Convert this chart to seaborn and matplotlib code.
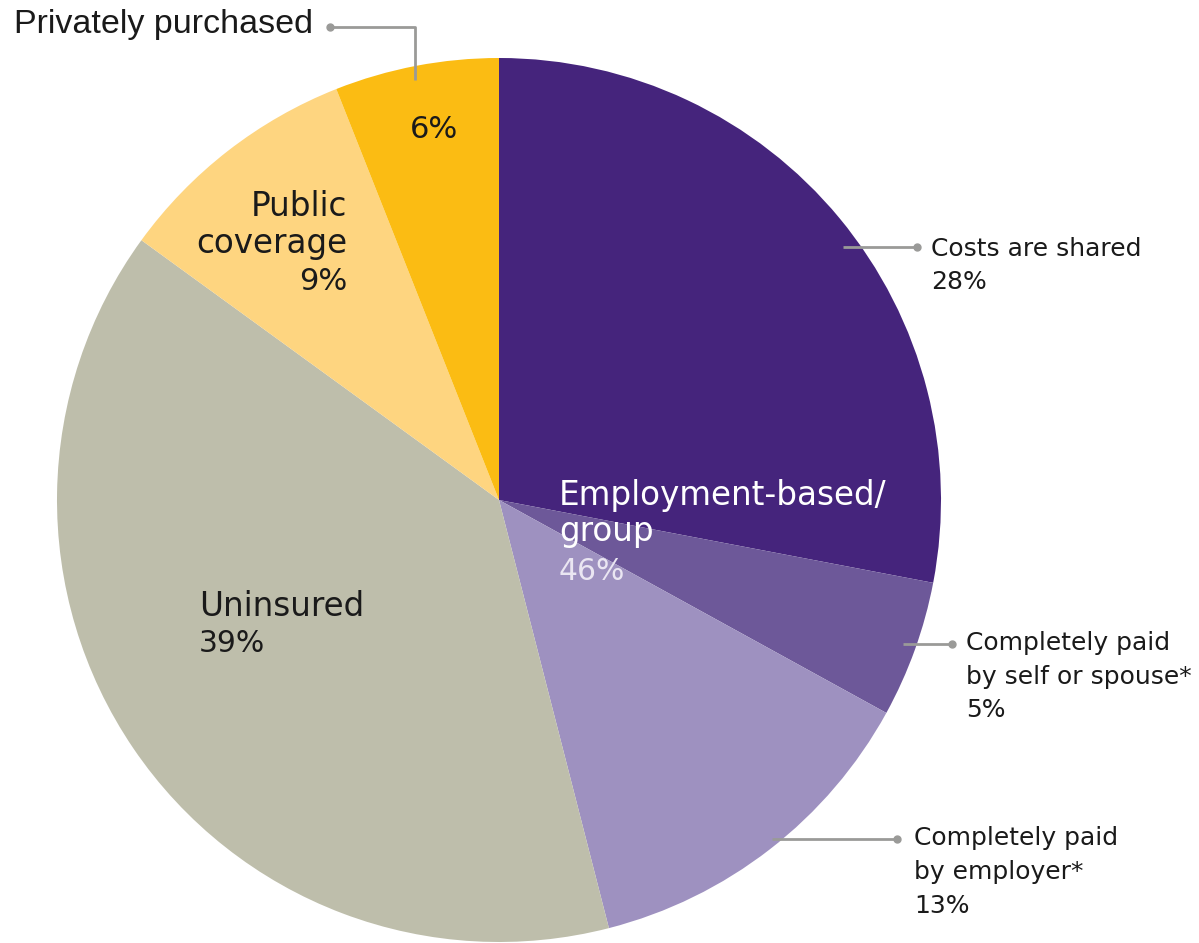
import matplotlib
matplotlib.use("Agg")
import matplotlib.pyplot as plt
import seaborn as sns

# Health coverage shares, clockwise from 12 o'clock
categories = [
    "Costs are shared",
    "Completely paid by self or spouse*",
    "Completely paid by employer*",
    "Uninsured",
    "Public coverage",
    "Privately purchased",
]
shares = [28, 5, 13, 39, 9, 6]
colors = ["#45247C", "#6D5899", "#9E91C0", "#BEBEAB", "#FED580", "#FBBC13"]

sns.set_theme(style="white")
plt.rcParams["font.family"] = ["DejaVu Sans"]

W, H = 1199, 943
fig = plt.figure(figsize=(W / 100, H / 100), dpi=100)
ax = fig.add_axes([0, 0, 1, 1])

def Y(y):
    return H - y

ax.pie(shares, colors=colors, startangle=90, counterclock=False,
       center=(499, Y(500)), radius=442, wedgeprops=dict(linewidth=0))
ax.set_xlim(0, W)
ax.set_ylim(0, H)
ax.set_aspect("equal")
ax.axis("off")

ink = "#1A1A1A"
lead = "#9A9A98"

def txt(x, y, s, size, color=ink, ha="left", family=None):
    kw = {"family": family} if family else {}
    ax.text(x, Y(y), s, fontsize=size, color=color, ha=ha, va="center", **kw)

def leader(pts):
    xs = [p[0] for p in pts]
    ys = [Y(p[1]) for p in pts]
    ax.plot(xs, ys, color=lead, lw=2, solid_capstyle="butt")
    ax.plot(xs[0], ys[0], "o", color=lead, ms=5)

BIG, BIGPCT = 23.5, 21.5
SMALL = 18

# Privately purchased
txt(14, 25, "Privately purchased", 24.5, family="Liberation Sans")
leader([(330, 27), (415, 27), (415, 80)])
txt(410, 130, f"{shares[5]}%", 22)

# Public coverage
txt(347, 206, "Public", BIG, ha="right")
txt(347, 244, "coverage", BIG, ha="right")
txt(347, 282, f"{shares[4]}%", 22, ha="right")

# Uninsured
txt(199, 606, "Uninsured", BIG)
txt(199, 644, f"{shares[3]}%", BIGPCT)

# Employment-based group total
emp = shares[0] + shares[1] + shares[2]
txt(559, 495, "Employment-based/", BIG, color="white")
txt(559, 532, "group", BIG, color="white")
txt(559, 571, f"{emp}%", BIGPCT, color="#EAE6F2")

# Costs are shared
leader([(917, 247), (843, 247)])
txt(931, 249, "Costs are shared", SMALL)
txt(931, 282, f"{shares[0]}%", SMALL)

# Completely paid by self or spouse
leader([(952, 644), (903, 644)])
txt(966, 643, "Completely paid", SMALL)
txt(966, 677, "by self or spouse*", SMALL)
txt(966, 710, f"{shares[1]}%", SMALL)

# Completely paid by employer
leader([(897, 839), (772, 839)])
txt(914, 838, "Completely paid", SMALL)
txt(914, 872, "by employer*", SMALL)
txt(914, 906, f"{shares[2]}%", SMALL)

fig.savefig("out.png", dpi=100, facecolor="white")
